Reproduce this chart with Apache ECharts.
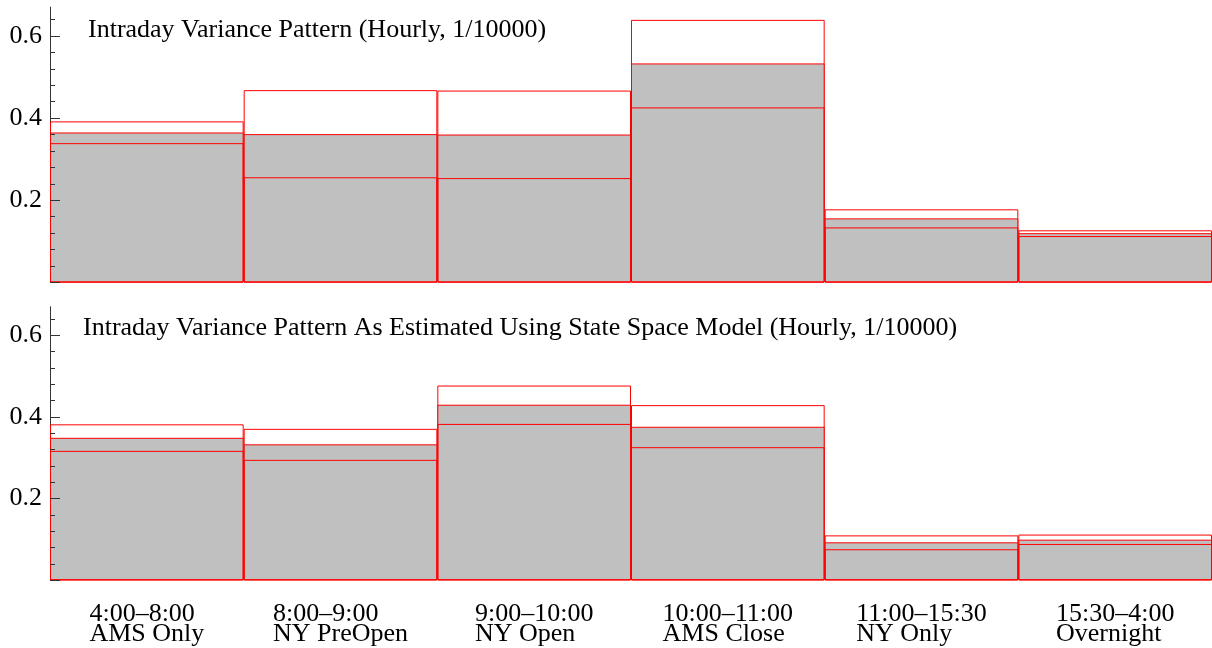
<!DOCTYPE html>
<html><head><meta charset="utf-8">
<script src="https://cdn.jsdelivr.net/npm/echarts@6/dist/echarts.min.js"></script>
<style>html,body{margin:0;padding:0;background:#fff}#c{width:1212px;height:648px}</style>
</head><body><div id="c"></div>
<script>
// ---- data ----
const periods = ['4:00\u20138:00','8:00\u20139:00','9:00\u201310:00','10:00\u201311:00','11:00\u201315:30','15:30\u20134:00'];
const sessions = ['AMS Only','NY PreOpen','NY Open','AMS Close','NY Only','Overnight'];
const sampleMean  = [0.365,0.361,0.360,0.533,0.156,0.120];
const sampleUpper = [0.392,0.468,0.467,0.639,0.178,0.127];
const sampleLower = [0.339,0.256,0.254,0.426,0.134,0.113];
const ssmMean  = [0.349,0.333,0.430,0.376,0.093,0.0995];
const ssmUpper = [0.382,0.371,0.477,0.429,0.110,0.112];
const ssmLower = [0.317,0.295,0.383,0.326,0.076,0.089];
const yTickLabels = [0.2,0.4,0.6];
const titles = ['Intraday Variance Pattern (Hourly, 1/10000)',
                'Intraday Variance Pattern As Estimated Using State Space Model (Hourly, 1/10000)'];

// ---- layout ----
const FONT = 'Liberation Serif';
const FS = 26;
const yMax = 0.67, minorMax = 0.64, majorMax = 0.6;
const panels = [
  {base: 282.5, ppu: 411, tLeft: 88, tTop: 17, mean: sampleMean, up: sampleUpper, lo: sampleLower, labels: false},
  {base: 580.3, ppu: 408.3, tLeft: 83, tTop: 315, mean: ssmMean, up: ssmUpper, lo: ssmLower, labels: true}
];

const grid = [], xAxis = [], yAxis = [], series = [], title = [];
panels.forEach((p, i) => {
  const L = 50, W = 1162;
  grid.push({left: L, width: W, top: p.base - yMax * p.ppu, height: yMax * p.ppu, outerBoundsMode: 'none', containLabel: false});
  grid.push({left: L, width: W, top: p.base - minorMax * p.ppu, height: minorMax * p.ppu, outerBoundsMode: 'none', containLabel: false});
  grid.push({left: L, width: W, top: p.base - majorMax * p.ppu, height: majorMax * p.ppu, outerBoundsMode: 'none', containLabel: false});
  const g = 3 * i;
  xAxis.push({
    type: 'category', gridIndex: g, data: periods, boundaryGap: true,
    axisLine: {show: false}, axisTick: {show: false}, splitLine: {show: false},
    axisLabel: p.labels ? {
      show: true, interval: 0, margin: 24,
      formatter: (v, idx) => '{a|' + v + '}\n{a|' + sessions[idx] + '}',
      rich: {a: {fontFamily: FONT, fontSize: FS, lineHeight: 20, color: '#000', align: 'left'}}
    } : {show: false}
  });
  xAxis.push({type: 'value', gridIndex: g + 1, min: 0, max: 1, show: false});
  xAxis.push({type: 'value', gridIndex: g + 2, min: 0, max: 1, show: false});
  yAxis.push({
    type: 'value', gridIndex: g, min: 0, max: yMax,
    axisLine: {show: true, lineStyle: {color: '#333', width: 1}},
    axisTick: {show: false}, axisLabel: {show: false}, splitLine: {show: false}
  });
  yAxis.push({
    type: 'value', gridIndex: g + 1, min: 0, max: minorMax, interval: 0.04, z: 5,
    axisLine: {show: false},
    axisTick: {show: true, inside: true, length: 5, lineStyle: {color: '#333', width: 1}},
    axisLabel: {show: false}, splitLine: {show: false}
  });
  yAxis.push({
    type: 'value', gridIndex: g + 2, min: 0, max: majorMax, interval: 0.2, z: 5,
    axisLine: {show: false},
    axisTick: {show: true, inside: true, length: 10, lineStyle: {color: '#333', width: 1}},
    axisLabel: {
      show: true, margin: 8, color: '#000', fontFamily: FONT, fontSize: FS,
      formatter: v => yTickLabels.some(t => Math.abs(t - v) < 1e-9) ? v.toFixed(1) : ''
    },
    splitLine: {show: false}
  });
  const common = {type: 'bar', xAxisIndex: g, yAxisIndex: g, barWidth: '100%', barGap: '-100%', silent: true, animation: false};
  series.push(Object.assign({}, common, {name: 'upper' + i, data: p.up,
    itemStyle: {color: 'rgba(255,255,255,0)', borderColor: '#ff0000', borderWidth: 1}}));
  series.push(Object.assign({}, common, {name: 'mean' + i, data: p.mean,
    itemStyle: {color: '#c0c0c0', borderColor: '#ff0000', borderWidth: 1}}));
  series.push(Object.assign({}, common, {name: 'lower' + i, data: p.lo,
    itemStyle: {color: 'rgba(255,255,255,0)', borderColor: '#ff0000', borderWidth: 1}}));
  title.push({text: titles[i], left: p.tLeft, top: p.tTop, padding: 0,
    textStyle: {fontFamily: FONT, fontSize: FS, fontWeight: 'normal', color: '#000'}});
});

const chart = echarts.init(document.getElementById('c'), null, {renderer: 'canvas'});
chart.setOption({animation: false, backgroundColor: '#fff', title, grid, xAxis, yAxis, series, tooltip: {show: false}, legend: {show: false}});
</script>
</body></html>
